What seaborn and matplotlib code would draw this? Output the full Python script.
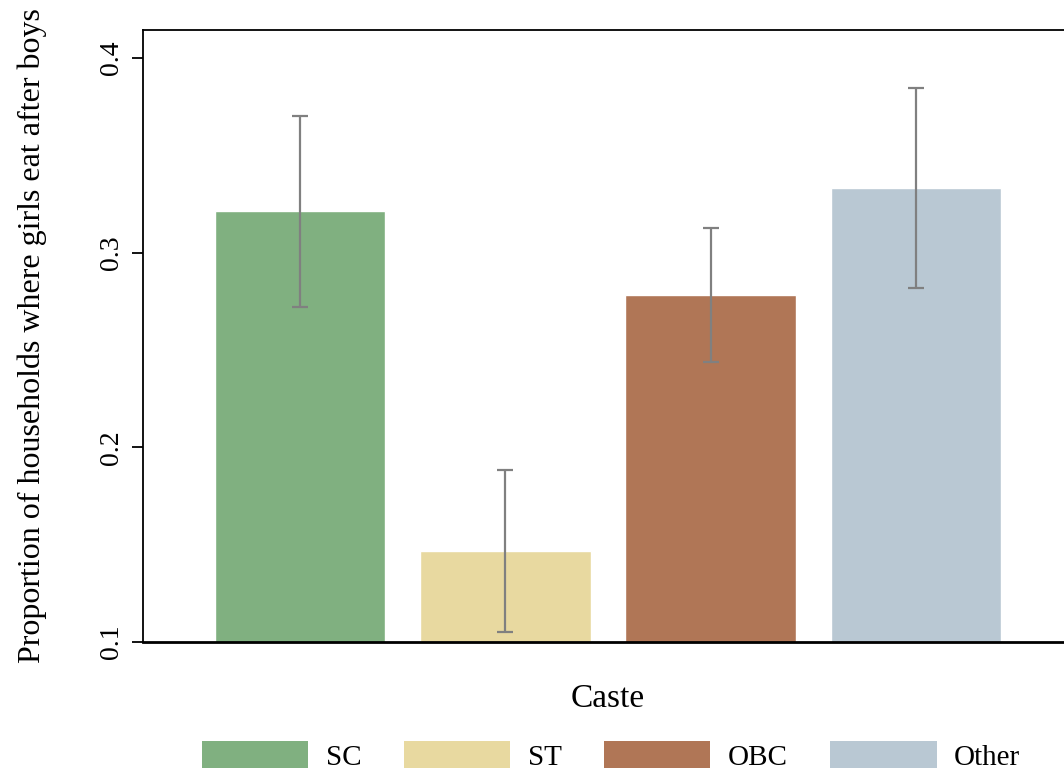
import numpy as np
import matplotlib
matplotlib.use("Agg")
import matplotlib.pyplot as plt
import seaborn as sns
from matplotlib.patches import Patch

castes = ["SC", "ST", "OBC", "Other"]
share = [0.3216, 0.1468, 0.2784, 0.3334]
ci_low = [0.2722, 0.1051, 0.2440, 0.2820]
ci_high = [0.3704, 0.1884, 0.3129, 0.3848]
colors = ["#80b080", "#e8d9a0", "#b07656", "#b9c8d3"]

sns.set_style("white")
plt.rcParams['font.family'] = ['Liberation Serif', 'DejaVu Serif']
plt.rcParams['text.color'] = 'black'
plt.rcParams['axes.labelcolor'] = 'black'
plt.rcParams['ytick.color'] = 'black'

fig = plt.figure(figsize=(10.64, 7.71), dpi=100)
ax = fig.add_axes([143 / 1064, 1 - 642 / 771, 930 / 1064, 612 / 771])

sns.barplot(x=castes, y=share, hue=castes, palette=colors, width=0.83,
            saturation=1, legend=False, ax=ax, errorbar=None)

yerr = [np.array(share) - np.array(ci_low), np.array(ci_high) - np.array(share)]
ax.errorbar(range(len(castes)), share, yerr=yerr, fmt='none',
            ecolor='#808080', elinewidth=1.6, capsize=5.5, capthick=1.6)

ax.set_xlim(-0.764, 3.764)
ax.set_ylim(0.1, 0.4144)
ax.set_yticks([0.1, 0.2, 0.3, 0.4])
ax.set_yticklabels(["0.1", "0.2", "0.3", "0.4"], rotation=90, va='center', fontsize=20)
ax.set_xticks([])
ax.tick_params(axis='y', left=True, length=8, width=1.3, color='black', pad=6)

for side in ['left', 'top', 'right']:
    ax.spines[side].set_linewidth(1.3)
    ax.spines[side].set_color('black')
ax.spines['bottom'].set_linewidth(2)
ax.spines['bottom'].set_color('black')

ax.set_ylabel("Proportion of households where girls eat after boys", fontsize=23)
ax.yaxis.set_label_coords(-0.103, 0.5)
ax.set_xlabel("Caste", fontsize=24, labelpad=30)

handles = [Patch(facecolor=c, edgecolor='none') for c in colors]
fig.legend(handles, castes, loc='center', bbox_to_anchor=(611 / 1064, 1 - 756 / 771),
           ncol=4, frameon=False, fontsize=21, handlelength=3.65, handleheight=1.05,
           handletextpad=0.6, columnspacing=1.45, borderaxespad=0)

fig.savefig("out.png", dpi=100)
